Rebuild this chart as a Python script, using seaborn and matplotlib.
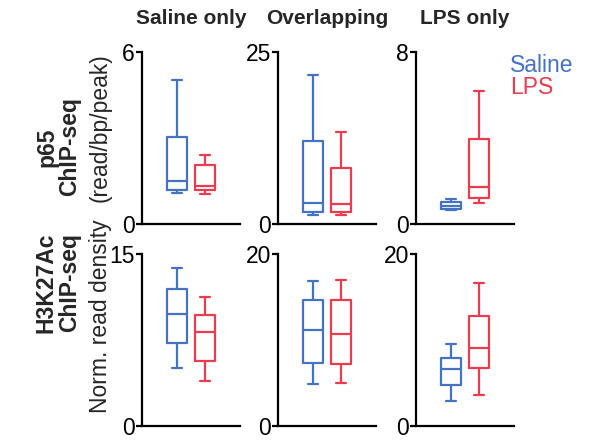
import matplotlib
matplotlib.use("Agg")
import matplotlib.pyplot as plt
import seaborn as sns
import pandas as pd

sns.set_theme(style="ticks")
plt.rcParams['font.family'] = ['Liberation Sans', 'DejaVu Sans']

groups = ["Saline", "LPS"]
columns = ["Saline only", "Overlapping", "LPS only"]

# five-number summaries: [min, Q1, median, Q3, max]
p65_saline_only_saline = [1.08, 1.19, 1.51, 3.05, 5.02]
p65_saline_only_lps = [1.04, 1.17, 1.34, 2.06, 2.41]
p65_overlap_saline = [1.3, 1.8, 3.1, 12.1, 21.7]
p65_overlap_lps = [1.35, 1.8, 2.9, 8.2, 13.4]
p65_lps_only_saline = [0.63, 0.71, 0.86, 1.0, 1.16]
p65_lps_only_lps = [0.97, 1.2, 1.74, 3.94, 6.19]

h3_saline_only_saline = [5.06, 7.2, 9.8, 11.94, 13.77]
h3_saline_only_lps = [3.94, 5.71, 8.2, 9.71, 11.29]
h3_overlap_saline = [4.88, 7.31, 11.16, 14.7, 16.88]
h3_overlap_lps = [4.95, 7.2, 10.74, 14.63, 16.95]
h3_lps_only_saline = [2.86, 4.76, 6.63, 7.92, 9.52]
h3_lps_only_lps = [3.58, 6.78, 9.03, 12.84, 16.65]

ymax_p65 = [6, 25, 8]
ymax_h3 = [15, 20, 20]

panels = [
    [(p65_saline_only_saline, p65_saline_only_lps),
     (p65_overlap_saline, p65_overlap_lps),
     (p65_lps_only_saline, p65_lps_only_lps)],
    [(h3_saline_only_saline, h3_saline_only_lps),
     (h3_overlap_saline, h3_overlap_lps),
     (h3_lps_only_saline, h3_lps_only_lps)],
]
ymaxes = [ymax_p65, ymax_h3]

palette = {"Saline": "#4472C4", "LPS": "#EC3A4E"}

W, H = 590, 440
fig = plt.figure(figsize=(W / 100, H / 100), dpi=100)

lefts = [142, 278, 416]
axw = 98
row_tb = [(52, 224), (254, 426)]
FS = 16.5

for r in range(2):
    top, bot = row_tb[r]
    for c in range(3):
        ax = fig.add_axes([lefts[c] / W, 1 - bot / H, axw / W, (bot - top) / H])
        sal, lps = panels[r][c]
        df = pd.DataFrame({
            "group": ["Saline"] * len(sal) + ["LPS"] * len(lps),
            "value": list(sal) + list(lps),
        })
        sns.boxplot(data=df, x="group", y="value", hue="group", order=groups,
                    hue_order=groups, palette=palette, fill=False, width=0.7,
                    whis=(0, 100), linewidth=1.6, legend=False, ax=ax)
        ax.set_xlim(-1.25, 2.25)
        ax.set_ylim(0, ymaxes[r][c])
        ax.set_yticks([0, ymaxes[r][c]])
        ax.set_yticklabels(["0", str(ymaxes[r][c])])
        ax.set_xticks([])
        ax.set_xlabel("")
        ax.set_ylabel("")
        ax.set_facecolor("none")
        for s in ["top", "right"]:
            ax.spines[s].set_visible(False)
        for s in ["left", "bottom"]:
            ax.spines[s].set_linewidth(1.6)
            ax.spines[s].set_color("black")
        ax.tick_params(axis="y", length=4, width=1.6, pad=1, labelsize=FS,
                       colors="black")

# column titles
for c in range(3):
    fig.text((lefts[c] + axw / 2) / W, 1 - 19 / H, columns[c],
             ha="center", va="center", fontsize=15, fontweight="bold")

# row labels
fig.text(58 / W, 1 - 147 / H, "p65\nChIP-seq", rotation=90, ha="center",
         va="center", fontsize=FS, fontweight="bold", linespacing=1.0,
         multialignment="center")
fig.text(58 / W, 1 - 283 / H, "H3K27Ac\nChIP-seq", rotation=90, ha="center",
         va="center", fontsize=FS, fontweight="bold", linespacing=1.0,
         multialignment="center")
fig.text(100 / W, 1 - 128 / H, "(read/bp/peak)", rotation=90, ha="center",
         va="center", fontsize=FS)
fig.text(100 / W, 1 - 316 / H, "Norm. read density", rotation=90, ha="center",
         va="center", fontsize=FS)

# legend
fig.text(510 / W, 1 - 65 / H, "Saline", color=palette["Saline"], ha="left",
         va="center", fontsize=FS)
fig.text(510 / W, 1 - 88 / H, "LPS", color=palette["LPS"], ha="left",
         va="center", fontsize=FS)

fig.savefig("out.png", dpi=100)
